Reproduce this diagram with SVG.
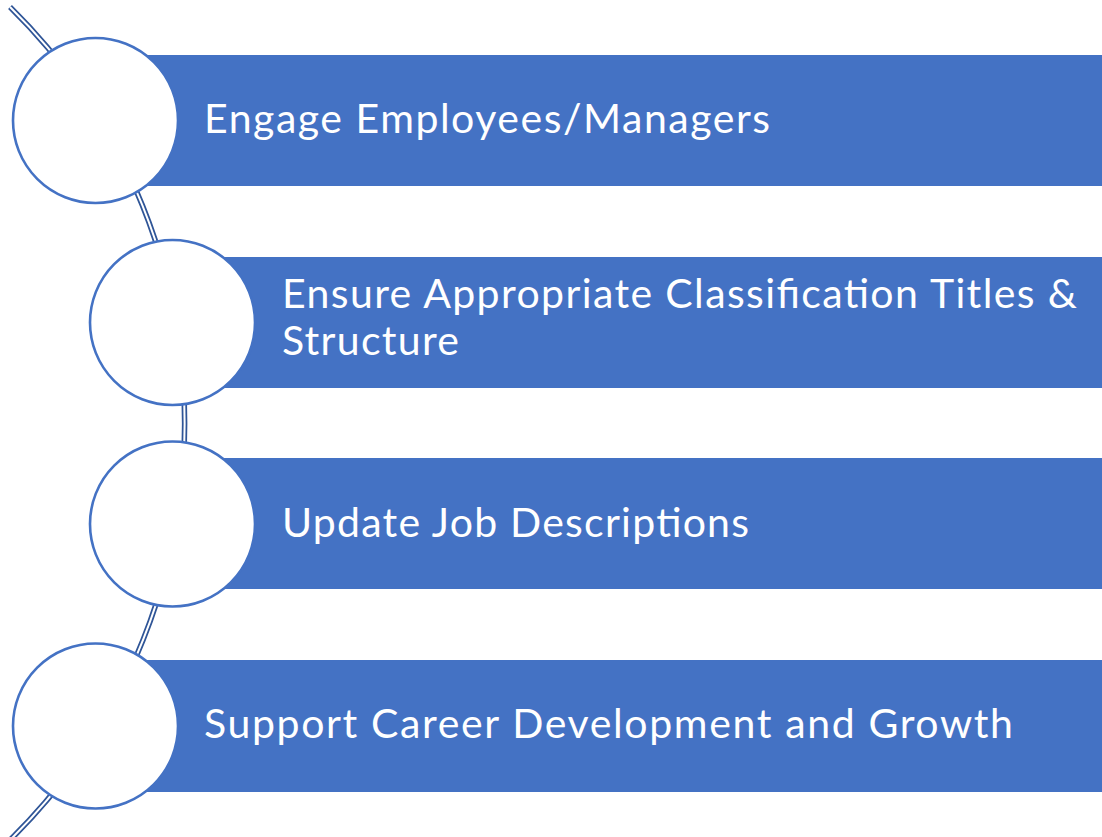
<svg xmlns="http://www.w3.org/2000/svg" width="1102" height="837" viewBox="0 0 1102 837">
  <style>
    .bar { fill: #4472C4; }
    .disc { fill: #FFFFFF; stroke: #4472C4; stroke-width: 2.6; }
    .label { fill: #FFFFFF; font-family: Lato, "Liberation Sans", sans-serif; font-size: 41px; }
    .rail-outer { fill: none; stroke: #2F5597; stroke-width: 5.5; }
    .rail-inner { fill: none; stroke: #FFFFFF; stroke-width: 2; }
  </style>

  <rect width="1102" height="837" fill="#FFFFFF"/>

  <!-- curved double rail linking the steps -->
  <g id="connectors">
    <path class="rail-outer" d="M 10 7 A 584 584 0 0 1 10 840"/>
    <path class="rail-inner" d="M 10 7 A 584 584 0 0 1 10 840"/>
  </g>

  <g id="step1">
    <rect class="bar" x="95" y="55" width="1007" height="131"/>
    <circle class="disc" cx="95.5" cy="120.5" r="82.5"/>
    <text class="label" x="204" y="133" textLength="566" lengthAdjust="spacing">Engage Employees/Managers</text>
  </g>

  <g id="step2">
    <rect class="bar" x="172" y="257" width="930" height="131"/>
    <circle class="disc" cx="172.5" cy="322.5" r="82.5"/>
    <text class="label" x="282" y="308" textLength="795" lengthAdjust="spacing">Ensure Appropriate Classification Titles &amp;</text>
    <text class="label" x="282" y="355" textLength="177" lengthAdjust="spacing">Structure</text>
  </g>

  <g id="step3">
    <rect class="bar" x="172" y="458" width="930" height="131"/>
    <circle class="disc" cx="172.5" cy="524" r="82.5"/>
    <text class="label" x="282" y="537" textLength="467" lengthAdjust="spacing">Update Job Descriptions</text>
  </g>

  <g id="step4">
    <rect class="bar" x="95" y="660" width="1007" height="132"/>
    <circle class="disc" cx="95.5" cy="726" r="82.5"/>
    <text class="label" x="204" y="738" textLength="809" lengthAdjust="spacing">Support Career Development and Growth</text>
  </g>
</svg>
